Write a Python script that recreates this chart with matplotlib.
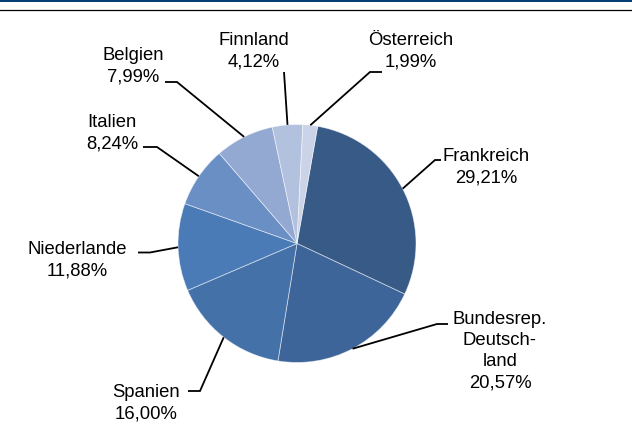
import numpy as np
import matplotlib
matplotlib.use("Agg")
import matplotlib.pyplot as plt
from matplotlib.lines import Line2D

# Anteile je Land (Prozent), im Uhrzeigersinn ab Frankreich
countries = ["Frankreich", "Bundesrep.\nDeutsch-\nland", "Spanien", "Niederlande",
             "Italien", "Belgien", "Finnland", "Österreich"]
shares = [29.21, 20.57, 16.00, 11.88, 8.24, 7.99, 4.12, 1.99]
colors = ["#375A87", "#3D6599", "#4571A9", "#4B7BB7",
          "#6A8FC5", "#94A9D2", "#B1C1DE", "#CAD3E7"]

W, H = 632, 434
CENTER = (297, H - 243.5)
RADIUS = 119
LINE_STEP = 20.5  # Zeilenabstand in Pixel

# label layout: text anchor (x, first-line baseline) and leader knee/end, pixel coords from top
label_pos = [(486, 162), (500, 326), (146, 398), (77.5, 255),
             (112, 128), (133, 61), (254, 46), (411, 46)]
knees = [(435, 160), (437, 324), (200, 391), (150, 252.5),
         (157, 147), (177, 82), (284, 72), (370, 72)]
ends = [(441, 160), (448, 324), (188, 391), (138, 252.5),
        (143, 147), (165, 82), (284, 72), (382, 72)]

plt.rcParams["font.family"] = ["Liberation Sans", "DejaVu Sans"]

fig = plt.figure(figsize=(W / 100, H / 100), dpi=100)
ax = fig.add_axes([0, 0, 1, 1])

wedges, _ = ax.pie(shares, colors=colors, startangle=80, counterclock=False,
                   center=CENTER, radius=RADIUS, frame=True,
                   wedgeprops=dict(edgecolor=(1, 1, 1, 0.55), linewidth=0.6))
ax.set_xlim(0, W)
ax.set_ylim(0, H)
ax.axis("off")

for w, name, v, (tx, ty), (kx, ky), (ex, ey) in zip(
        wedges, countries, shares, label_pos, knees, ends):
    mid = np.deg2rad((w.theta1 + w.theta2) / 2)
    sx = CENTER[0] + RADIUS * np.cos(mid)
    sy = CENTER[1] + RADIUS * np.sin(mid)
    ax.plot([sx, kx, ex], [sy, H - ky, H - ey], color="black", lw=1.3,
            solid_capstyle="butt", solid_joinstyle="miter")
    txt = name + "\n" + f"{v:.2f}".replace(".", ",") + "%"
    n_lines = txt.count("\n") + 1
    # baseline alignment refers to the last line of the block
    last_base = ty + (n_lines - 1) * LINE_STEP
    ax.text(tx, H - last_base, txt, ha="center", va="baseline", fontsize=13.3,
            linespacing=1.32, multialignment="center", color="black")

# Kopflinien
fig.add_artist(Line2D([0, 1], [1 - 0.8 / H, 1 - 0.8 / H], color="#003A70", lw=1.4))
fig.add_artist(Line2D([0, 1], [1 - 10.3 / H, 1 - 10.3 / H], color="black", lw=0.9))

fig.savefig("out.png", dpi=100)
